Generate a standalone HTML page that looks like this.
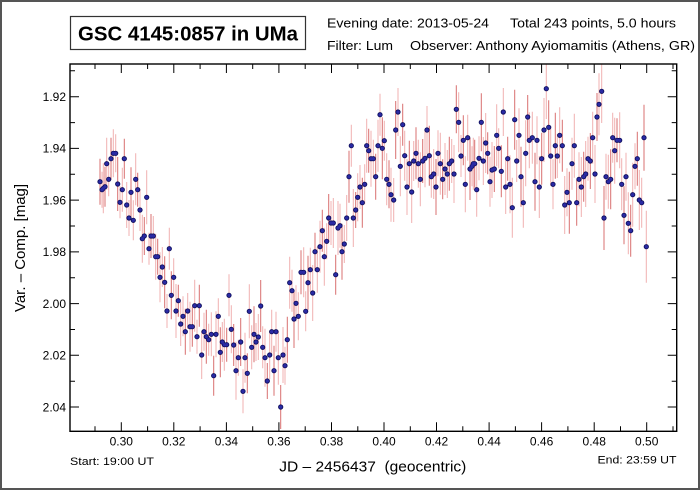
<!DOCTYPE html>
<html><head><meta charset="utf-8"><style>
html,body{margin:0;padding:0;background:#fff;}
svg{display:block;}
text{font-family:"Liberation Sans",Arial,sans-serif;fill:#000;}
</style></head><body>
<svg width="700" height="490" viewBox="0 0 700 490" xmlns="http://www.w3.org/2000/svg">
<defs>
<clipPath id="pc"><rect x="70" y="64" width="606.7" height="367.3"/></clipPath>
<path id="pts" fill="none" stroke-linecap="round" d="M100 181.7h0M102 189.7h0M103.3 188.3h0M105 186.7h0M106.7 163.7h0M108.7 179.3h0M111 158.7h0M113.3 153.3h0M115.7 153.3h0M117.7 184h0M120 202.3h0M122.3 189.7h0M124.3 158.7h0M126.7 205h0M129 218h0M131 192.3h0M133.3 220.3h0M135.7 179.3h0M137.7 189.7h0M140 210h0M142.3 238.7h0M144.3 236h0M146.7 197.3h0M149 248.7h0M151 236h0M153.3 236h0M155.7 256.7h0M157.7 256.7h0M160 277.3h0M162.3 267h0M164.7 282.3h0M167 311h0M169.3 248.7h0M171.3 295.3h0M173.7 277.3h0M176 311h0M178.3 300.7h0M180.7 324h0M183 316.3h0M185.3 331.7h0M187.7 311h0M190 326.7h0M192.3 326.7h0M194.7 305.7h0M197 336.7h0M199.3 305.7h0M201.7 355h0M204 331.7h0M206.3 336.7h0M208.7 339.7h0M211.3 334.3h0M213.7 375.7h0M216 334.3h0M218.3 316.3h0M220.3 352.3h0M222.3 342h0M224.3 344.7h0M226.7 344.7h0M229 295.3h0M231.3 329.3h0M233.7 345h0M236 370.7h0M238.3 357.7h0M240.7 342h0M243 391.3h0M245 357.7h0M247.3 373.3h0M249.3 311.3h0M251.7 347.3h0M254 334.3h0M256 342h0M258.3 337h0M260.7 306h0M262.7 347.3h0M265 357.7h0M267.3 381h0M269.7 355h0M271.7 331.7h0M274 370.7h0M276 331.7h0M278.3 357.7h0M280.7 407h0M283 355h0M285 365.7h0M287.3 339.7h0M289.7 282.7h0M292 290.7h0M294 319h0M296 303.3h0M298.3 316.3h0M301 272.3h0M303.7 272.3h0M305.7 311.3h0M308 282.7h0M310.3 269.7h0M312.7 293h0M315 251.7h0M317.3 269.7h0M320 246.7h0M322.3 230.7h0M324.3 256.7h0M326.7 241.3h0M328.7 218h0M331 223h0M333.3 223h0M335.7 274.7h0M338 228h0M340 225.7h0M342 251.7h0M344.3 244h0M346.7 218h0M349 176.7h0M351.3 145.7h0M353.3 218h0M355.7 210h0M357.7 197.3h0M360 187h0M362.3 202.7h0M364.7 184.3h0M366.7 145.7h0M368.7 150.7h0M371 158.7h0M373.3 158.7h0M375.7 176.7h0M378 145.7h0M380 114.7h0M382.3 148.3h0M384.3 140.7h0M386.7 179.3h0M389 184.3h0M391 194.7h0M393.7 200h0M395.7 130h0M398 112h0M400.3 166.3h0M402.7 124.7h0M404.7 155.7h0M407 187h0M409.3 163.7h0M411.7 192h0M413.7 161h0M416 153.3h0M418.3 163.7h0M420.3 179.3h0M422.7 161h0M425 158.3h0M427 130h0M429.3 155.7h0M431.3 176.7h0M433.7 174h0M436 187h0M438 153.3h0M440.3 163.7h0M442.7 179.3h0M445 169h0M447.3 174h0M449.3 163.7h0M451.7 161h0M454 174h0M456.3 109.3h0M458.7 122.3h0M461 156h0M463.3 140.3h0M465.3 184.3h0M467.7 137.7h0M470 169h0M472 166.3h0M473.3 163.7h0M474.7 163.7h0M476.7 189.7h0M479 158.3h0M481.3 122.3h0M483.3 161h0M485.7 143h0M487.7 153.3h0M490 181.7h0M492 170h0M494.3 169h0M496.7 135.3h0M498.7 148.3h0M501.3 171.3h0M503.3 112h0M505.7 187h0M507.7 158.7h0M510 184.3h0M512.3 207.7h0M514.7 119.7h0M516.7 161h0M519 135.3h0M521 176.7h0M523.3 202.7h0M525.7 153.3h0M527.7 117h0M529.3 140.3h0M532.3 137.7h0M535 181.7h0M537 140.3h0M539.3 187h0M541.7 158.7h0M544 130h0M546.3 88.7h0M548.7 127.3h0M550.7 156h0M553 184.3h0M555.3 145.7h0M557.3 156h0M559.7 135.3h0M562.3 145.7h0M564.7 205h0M567 192.3h0M569.3 202.7h0M572 163.7h0M574.3 145.7h0M576.7 202.7h0M579 179.3h0M581.3 187h0M583.7 176.7h0M585.7 174h0M588 158.7h0M590.3 161h0M592.7 137.7h0M595 174h0M597 117h0M599 104.3h0M601.7 91.3h0M604 218h0M606 176.7h0M608.3 181.7h0M610.7 179.3h0M612.7 137.7h0M614.7 150.7h0M617 140.3h0M619.7 140.3h0M621.7 184.3h0M624 215.3h0M626 176.7h0M628.3 223.3h0M630.7 230.7h0M632.7 194.7h0M635 166.3h0M637.3 158.7h0M639.3 200h0M641.7 202.7h0M644 137.7h0M646.3 246.7h0"/>
</defs>
<rect x="0" y="0" width="700" height="490" fill="#fff"/>
<rect x="1" y="1" width="698" height="488" fill="none" stroke="#555" stroke-width="2"/>

<!-- title box -->
<rect x="70.5" y="16.5" width="235" height="33" fill="none" stroke="#333" stroke-width="1.2"/>
<text x="188" y="40.5" text-anchor="middle" font-size="20" font-weight="bold" textLength="220" lengthAdjust="spacingAndGlyphs">GSC 4145:0857 in UMa</text>

<!-- header -->
<text x="327" y="27.5" font-size="13" textLength="162" lengthAdjust="spacingAndGlyphs">Evening date: 2013-05-24</text>
<text x="510" y="27.5" font-size="13" textLength="166" lengthAdjust="spacingAndGlyphs">Total 243 points, 5.0 hours</text>
<text x="327" y="50" font-size="13" textLength="66" lengthAdjust="spacingAndGlyphs">Filter: Lum</text>
<text x="410" y="50" font-size="13" textLength="285" lengthAdjust="spacingAndGlyphs">Observer: Anthony Ayiomamitis (Athens, GR)</text>

<!-- error bars -->
<g clip-path="url(#pc)" fill="none" stroke-width="1">
<path stroke="#f0b0b0" d="M102 171.7V207.7M103.3 163.3V213.3M106.7 137.7V189.7M108.7 162.3V196.3M113.3 129.3V177.3M115.7 134.3V172.3M120 186.3V218.3M122.3 167.7V211.7M126.7 182V228M129 200V236M133.3 200.3V240.3M135.7 153.3V205.3M140 189V231M142.3 214.7V262.7M146.7 170.3V224.3M149 232.7V264.7M153.3 216V256M155.7 233.7V279.7M160 252.3V302.3M162.3 247V287M167 294V328M169.3 227.7V269.7M173.7 258.3V296.3M176 284V338M180.7 302V346M183 296.3V336.3M187.7 293V329M190 301.7V351.7M194.7 279.7V331.7M197 319.7V353.7M201.7 331V379M204 312.7V350.7M208.7 323.7V355.7M211.3 312.3V356.3M216 311.3V357.3M218.3 298.3V334.3M222.3 322V362M224.3 318.7V370.7M229 274.3V316.3M231.3 305.3V353.3M236 341.7V399.7M238.3 339.7V375.7M243 369.3V413.3M245 332.7V382.7M249.3 284.3V338.3M251.7 325.3V369.3M256 323V361M258.3 314V360M262.7 326.3V368.3M265 328.7V386.7M269.7 331V379M271.7 309.7V353.7M276 311.7V351.7M278.3 330.7V384.7M283 327V383M285 346.7V384.7M289.7 256.7V308.7M292 269.7V311.7M296 285.3V321.3M298.3 292.3V340.3M303.7 247.3V297.3M305.7 291.3V331.3M310.3 247.7V291.7M312.7 265V321M317.3 246.7V292.7M320 220.7V272.7M324.3 227.7V285.7M326.7 223.3V259.3M331 201V245M333.3 198V248M338 201V255M340 203.7V247.7M344.3 225V263M346.7 195V241M351.3 124.7V166.7M353.3 189V247M357.7 173.3V221.3M360 165V209M364.7 164.3V204.3M366.7 118.7V172.7M371 130.7V186.7M373.3 139.7V177.7M378 119.7V171.7M380 93.7V135.7M384.3 120.7V160.7M386.7 153.3V205.3M391 167.7V221.7M393.7 178V222M398 88V136M400.3 136.3V196.3M404.7 130.7V180.7M407 159V215M411.7 161V223M413.7 141V181M418.3 139.7V187.7M420.3 152.3V206.3M425 129.3V187.3M427 106V154M431.3 155.7V197.7M433.7 149V199M438 130.3V176.3M440.3 132.7V194.7M445 143V195M447.3 150V198M451.7 139V183M454 145V203M458.7 92.3V152.3M461 135V177M465.3 156.3V212.3M467.7 114.7V160.7M472 146.3V186.3M473.3 137.7V189.7M476.7 162.7V216.7M479 136.3V180.3M483.3 137V185M485.7 113V173M490 156.7V206.7M492 142V198M496.7 104.3V166.3M498.7 128.3V168.3M503.3 88V136M505.7 160V214M510 155.3V213.3M512.3 177.7V237.7M516.7 140V182M519 108.3V162.3M523.3 177.7V227.7M525.7 120.3V186.3M529.3 112.3V168.3M532.3 111.7V163.7M537 116.3V164.3M539.3 156V218M544 98V162M546.3 60V119M550.7 126V186M553 159.3V209.3M557.3 134V178M559.7 107.3V163.3M564.7 176V234M567 168.3V216.3M572 137.7V189.7M574.3 113.7V177.7M579 152.3V206.3M581.3 157V217M585.7 141V207M588 136.7V180.7M592.7 111.7V163.7M595 145V203M599 73.3V135.3M601.7 60V123M606 153.7V199.7M608.3 154.7V208.7M612.7 112.7V162.7M614.7 117.7V183.7M619.7 112.3V168.3M621.7 158.3V210.3M626 152.7V200.7M628.3 192.3V254.3M632.7 162.7V226.7M635 143.3V189.3M639.3 170V230M641.7 177.7V227.7M646.3 210.7V282.7"/>
<path stroke="#d87070" d="M100 158.7V204.7M105 166.7V206.7M111 137.7V179.7M117.7 157V211M124.3 138.7V178.7M131 167.3V217.3M137.7 172.7V206.7M144.3 217V255M151 214V258M157.7 238.7V274.7M164.7 256.3V308.3M171.3 271.3V319.3M178.3 284.7V316.7M185.3 308.7V354.7M192.3 306.7V346.7M199.3 284.7V326.7M206.3 309.7V363.7M213.7 355.7V395.7M220.3 327.3V377.3M226.7 327.7V361.7M233.7 324V366M240.7 318V366M247.3 353.3V393.3M254 306.3V362.3M260.7 280V332M267.3 363V399M274 345.7V395.7M280.7 385V429M287.3 316.7V362.7M294 290V348M301 250.3V294.3M308 255.7V309.7M315 232.7V270.7M322.3 209.7V251.7M328.7 194V242M335.7 254.7V294.7M342 223.7V279.7M349 150.7V202.7M355.7 192V228M362.3 177.7V227.7M368.7 128.7V172.7M375.7 153.7V199.7M382.3 117.3V179.3M389 160.3V208.3M395.7 101V159M402.7 103.7V145.7M409.3 140.7V186.7M416 127.3V179.3M422.7 139V183M429.3 125.7V185.7M436 159V215M442.7 159.3V199.3M449.3 136.7V190.7M456.3 85.3V133.3M463.3 115.3V165.3M470 138V200M474.7 139.7V187.7M481.3 93.3V151.3M487.7 132.3V174.3M494.3 146V192M501.3 145.3V197.3M507.7 136.7V180.7M514.7 89.7V149.7M521 146.7V206.7M527.7 95V139M535 152.7V210.7M541.7 132.7V184.7M548.7 100.3V154.3M555.3 112.7V178.7M562.3 119.7V171.7M569.3 171.7V233.7M576.7 179.7V225.7M583.7 151.7V201.7M590.3 133V189M597 93V141M604 186V250M610.7 149.3V209.3M617 118.3V162.3M624 186.3V244.3M630.7 204.7V256.7M637.3 131.7V185.7M644 104.7V170.7"/>
</g>

<!-- points -->
<use href="#pts" stroke="#0c0c58" stroke-width="5.2"/>
<use href="#pts" stroke="#2a2aa4" stroke-width="3.5"/>

<!-- plot frame -->
<rect x="70" y="64" width="606.7" height="367.3" fill="none" stroke="#000" stroke-width="1.4"/>

<!-- ticks -->
<path fill="none" stroke="#000" stroke-width="1" d="
M121.3 431.3V422.3M173.8 431.3V422.3M226.4 431.3V422.3M278.9 431.3V422.3M331.5 431.3V422.3M384 431.3V422.3M436.5 431.3V422.3M489.1 431.3V422.3M541.6 431.3V422.3M594.2 431.3V422.3M646.7 431.3V422.3
M95 431.3V426.3M147.6 431.3V426.3M200.1 431.3V426.3M252.7 431.3V426.3M305.2 431.3V426.3M357.8 431.3V426.3M410.3 431.3V426.3M462.8 431.3V426.3M515.4 431.3V426.3M567.9 431.3V426.3M620.5 431.3V426.3M673 431.3V426.3
M121.3 64V73M173.8 64V73M226.4 64V73M278.9 64V73M331.5 64V73M384 64V73M436.5 64V73M489.1 64V73M541.6 64V73M594.2 64V73M646.7 64V73
M95 64V69M147.6 64V69M200.1 64V69M252.7 64V69M305.2 64V69M357.8 64V69M410.3 64V69M462.8 64V69M515.4 64V69M567.9 64V69M620.5 64V69M673 64V69
M70 96.7H79M70 148.4H79M70 200.1H79M70 251.9H79M70 303.6H79M70 355.3H79M70 407H79
M70 70.8H75M70 122.6H75M70 174.3H75M70 226H75M70 277.7H75M70 329.5H75M70 381.2H75
M676.7 96.7H667.7M676.7 148.4H667.7M676.7 200.1H667.7M676.7 251.9H667.7M676.7 303.6H667.7M676.7 355.3H667.7M676.7 407H667.7
M676.7 70.8H671.7M676.7 122.6H671.7M676.7 174.3H671.7M676.7 226H671.7M676.7 277.7H671.7M676.7 329.5H671.7M676.7 381.2H671.7"/>

<!-- y tick labels -->
<g font-size="12" text-anchor="end">
<text x="66" y="101">1.92</text>
<text x="66" y="152.7">1.94</text>
<text x="66" y="204.4">1.96</text>
<text x="66" y="256.2">1.98</text>
<text x="66" y="307.9">2.00</text>
<text x="66" y="359.6">2.02</text>
<text x="66" y="411.3">2.04</text>
</g>
<!-- x tick labels -->
<g font-size="12" text-anchor="middle">
<text x="121.3" y="445.5">0.30</text>
<text x="173.8" y="445.5">0.32</text>
<text x="226.4" y="445.5">0.34</text>
<text x="278.9" y="445.5">0.36</text>
<text x="331.5" y="445.5">0.38</text>
<text x="384" y="445.5">0.40</text>
<text x="436.5" y="445.5">0.42</text>
<text x="489.1" y="445.5">0.44</text>
<text x="541.6" y="445.5">0.46</text>
<text x="594.2" y="445.5">0.48</text>
<text x="646.7" y="445.5">0.50</text>
</g>

<!-- axis labels -->
<text x="279.3" y="471.7" font-size="15" textLength="187" lengthAdjust="spacingAndGlyphs">JD – 2456437&#160; (geocentric)</text>
<text transform="translate(25,248) rotate(-90)" x="0" y="0" font-size="15" text-anchor="middle">Var. – Comp. [mag]</text>
<text x="70" y="465" font-size="11" textLength="84" lengthAdjust="spacingAndGlyphs">Start: 19:00 UT</text>
<text x="597.5" y="463.3" font-size="11" textLength="79" lengthAdjust="spacingAndGlyphs">End: 23:59 UT</text>
</svg>
</body></html>
